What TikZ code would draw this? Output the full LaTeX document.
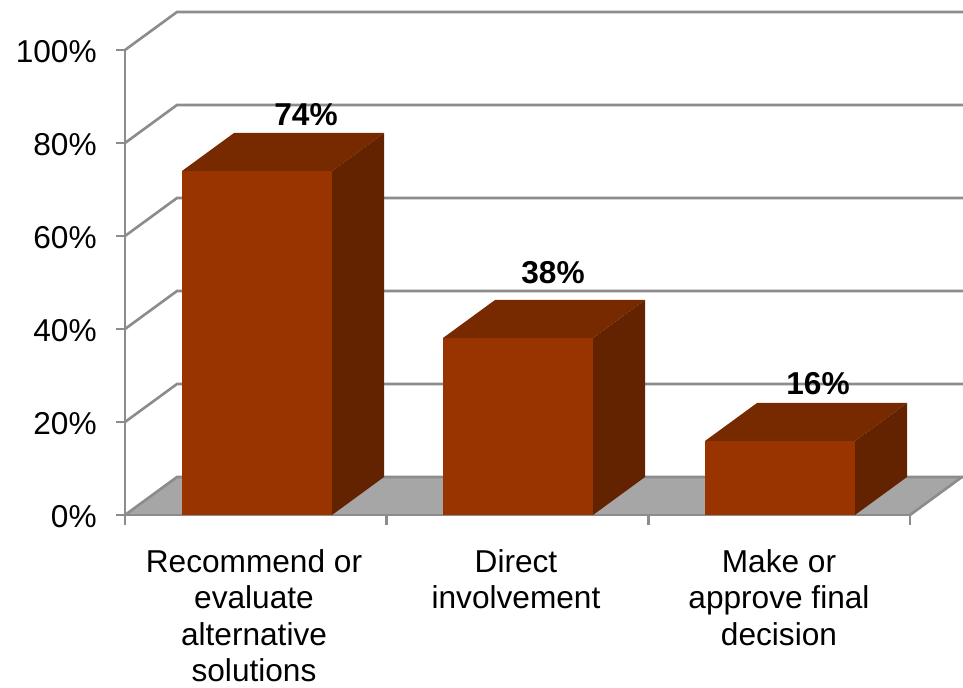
\documentclass[tikz,border=0pt]{standalone}
\usepackage{fontspec}
\setmainfont{Liberation Sans}
\usetikzlibrary{calc}
\definecolor{barfront}{RGB}{153,51,0}
\definecolor{bartop}{RGB}{119,41,0}
\definecolor{barside}{RGB}{99,35,0}
\definecolor{floorgray}{RGB}{166,166,166}
\definecolor{gridgray}{RGB}{140,140,140}
\def\barbox(#1:#2:#3) {
	\fill[barfront] (#1,173) rectangle (#2,#3);
	\fill[bartop] (#1,#3) -- ++(52,38) -- ($(#2,#3)+(52,38)$) -- (#2,#3) -- cycle;
	\fill[barside] (#2,173) -- ++(52,38) -- ($(#2,#3)+(52,38)$) -- (#2,#3) -- cycle;}

\begin{document}
\begin{tikzpicture}[x=0.02cm, y=0.02cm, font=\fontsize{18}{20.8}\selectfont,
	gridline/.style={draw=gridgray, line width=1.5pt},
	vallabel/.style={font=\fontsize{18}{21}\selectfont\bfseries, inner sep=0},
	catlabel/.style={anchor=north, align=center, inner sep=0}]

	\useasboundingbox (0,0) rectangle (963,688);

	% floor and back wall
	\fill[floorgray] (125,173) -- (910,173) -- (962,211) -- (177,211) -- cycle;
	\draw[gridline] (910,173) -- (962,211);
	\foreach \v in {0,20,...,100}
		\draw[gridline] (125,173+4.65*\v) -- ++(52,38) -- (963,211+4.65*\v);

	% axes
	\draw[gridline] (125,173) -- (125,638);
	\draw[gridline] (116,173) -- (910,173);
	\foreach \x in {125,386.7,648.3,910}
		\draw[gridline] (\x,173) -- (\x,163);
	\foreach \v in {0,20,...,100} {
		\draw[gridline] (116,173+4.65*\v) -- (125,173+4.65*\v);
		\node[anchor=base east, inner sep=0] (ylab\v) at (97,160+4.65*\v) {\v\%};
	}

	% bars
	\barbox(182:332:517)
	\barbox(443:593:350)
	\barbox(705:855:247)

	\node[vallabel] (val1) at (306,573) {74\%};
	\node[vallabel] (val2) at (553,415) {38\%};
	\node[vallabel] (val3) at (818,304) {16\%};

	\node[catlabel] (cat1) at (254,139) {Recommend or\\evaluate\\alternative\\solutions};
	\node[catlabel] (cat2) at (516,139) {Direct\\involvement};
	\node[catlabel] (cat3) at (779,139) {Make or\\approve final\\decision};

\end{tikzpicture}
\end{document}
